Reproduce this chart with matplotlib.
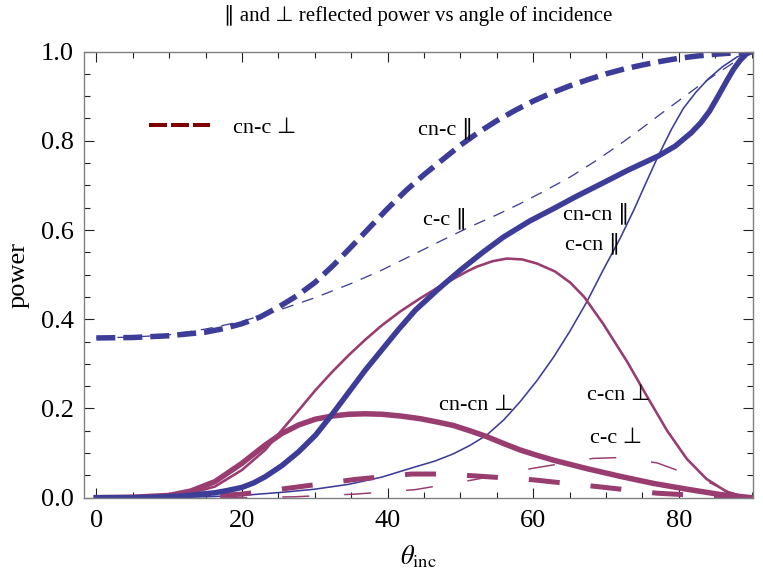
import matplotlib
matplotlib.use("Agg")
import matplotlib.pyplot as plt
from matplotlib.lines import Line2D
from matplotlib.ticker import MultipleLocator

# ---- data: reflected power vs angle of incidence (degrees) ----
# parallel polarisation
cn_c_par_ang = [0, 5, 10, 15, 17.5, 20, 22.5, 25, 27.5, 30, 32.5, 35, 37.5, 40, 42.5, 45, 47.5, 50,
                52.5, 55, 57.5, 60, 62.5, 65, 67.5, 70, 72.5, 75, 77.5, 80, 82.5, 85, 87.5, 90]
cn_c_par_pow = [0.358, 0.359, 0.363, 0.371, 0.379, 0.39, 0.405, 0.427, 0.452, 0.482, 0.52, 0.562,
                0.605, 0.648, 0.688, 0.724, 0.757, 0.79, 0.819, 0.845, 0.868, 0.889, 0.907, 0.923,
                0.937, 0.95, 0.961, 0.97, 0.978, 0.985, 0.99, 0.994, 0.997, 1.0]

c_c_par_ang = [0, 5, 10, 15, 20, 25, 30, 35, 39.2, 43.8, 47.5, 51.3, 55, 58.2, 61.5, 65.1, 68.5,
               71.9, 75, 77.5, 80, 82.5, 85, 87.5, 90]
c_c_par_pow = [0.358, 0.36, 0.365, 0.378, 0.395, 0.42, 0.448, 0.48, 0.51, 0.547, 0.577, 0.607,
               0.634, 0.659, 0.687, 0.719, 0.754, 0.792, 0.829, 0.86, 0.89, 0.92, 0.948, 0.975, 1.0]

cn_cn_par_ang = [0, 5, 8, 12, 16.3, 18, 20, 21.6, 23.2, 25.5, 27.8, 30.1, 32.4, 34.7, 36.9, 39.2,
                 41.5, 43.8, 47, 50, 53, 55.9, 59.5, 62.8, 66, 69.4, 73, 77.2, 79.5, 81.7, 83, 84.2,
                 85.4, 86.6, 87.5, 88.4, 89.3, 90]
cn_cn_par_pow = [0.0, 0.0, 0.001, 0.004, 0.011, 0.016, 0.023, 0.033, 0.047, 0.072, 0.103, 0.14,
                 0.187, 0.237, 0.285, 0.331, 0.377, 0.42, 0.468, 0.51, 0.549, 0.584, 0.62, 0.648,
                 0.676, 0.704, 0.734, 0.766, 0.788, 0.818, 0.84, 0.866, 0.9, 0.935, 0.96, 0.98,
                 0.995, 1.0]

c_cn_par_ang = [0, 8.6, 15, 20, 25.5, 30, 34.7, 39.2, 43.8, 46.5, 49, 51.3, 53.6, 56, 58.2, 60.5,
                62.8, 65, 67.4, 69.6, 71.9, 73.8, 75.5, 77.2, 79, 80.6, 82.3, 84, 86, 88, 90]
c_cn_par_pow = [0.0, 0.0, 0.002, 0.005, 0.012, 0.019, 0.03, 0.046, 0.069, 0.082, 0.098, 0.117,
                0.14, 0.175, 0.215, 0.262, 0.315, 0.372, 0.44, 0.51, 0.58, 0.644, 0.706, 0.767,
                0.826, 0.872, 0.908, 0.938, 0.966, 0.988, 1.0]

# perpendicular polarisation
c_cn_perp_ang = [0, 5, 10, 13, 16.3, 20, 23.2, 25.5, 27.8, 30.1, 32.4, 34.7, 37, 39.2, 41.8, 44.5,
                 47, 49, 51, 52.3, 54.4, 56.4, 58.5, 60.5, 63, 65.1, 67, 69.6, 72.9, 75.6, 78.4,
                 81.1, 83.8, 86.6, 89, 90]
c_cn_perp_pow = [0.0, 0.0, 0.004, 0.01, 0.025, 0.062, 0.107, 0.152, 0.196, 0.241, 0.282, 0.32,
                 0.355, 0.386, 0.418, 0.447, 0.472, 0.49, 0.508, 0.518, 0.53, 0.536, 0.534, 0.525,
                 0.507, 0.482, 0.45, 0.39, 0.305, 0.228, 0.15, 0.087, 0.042, 0.013, 0.002, 0.0]

cn_cn_perp_ang = [0, 5, 10, 13, 16.3, 20, 23.2, 25.5, 27.8, 30.1, 32.4, 34.7, 37, 39.2, 41.8, 44.5,
                  47, 49, 51.3, 53.6, 56, 58.2, 60.5, 62.8, 67.4, 71.9, 76.5, 81.1, 85.7, 90]
cn_cn_perp_pow = [0.0, 0.001, 0.005, 0.015, 0.036, 0.077, 0.118, 0.144, 0.163, 0.176, 0.183, 0.187,
                  0.188, 0.187, 0.183, 0.177, 0.169, 0.162, 0.15, 0.137, 0.121, 0.107, 0.095, 0.084,
                  0.065, 0.048, 0.032, 0.019, 0.007, 0.0]

cn_c_perp_ang = [0, 10, 15, 20, 27.2, 35.6, 43.3, 47, 51.8, 60, 68.7, 77, 86.2, 90]
cn_c_perp_pow = [0.0, 0.001, 0.003, 0.008, 0.023, 0.041, 0.053, 0.053, 0.049, 0.04, 0.025, 0.01, 0.002, 0.0]

c_c_perp_ang = [0, 20, 27.2, 35.6, 43.8, 51.8, 60, 68.2, 72, 77, 83.4, 87, 90]
c_c_perp_pow = [0.0, 0.0, 0.002, 0.008, 0.018, 0.04, 0.066, 0.088, 0.09, 0.078, 0.04, 0.012, 0.0]

x_ticks = [0, 20, 40, 60, 80]
y_ticks = [0.0, 0.2, 0.4, 0.6, 0.8, 1.0]

BLUE = "#3d3d99"
PURPLE = "#993d71"
DARKRED = "#800000"
PX = 0.72  # points per pixel at 100 dpi

plt.rcParams["lines.scale_dashes"] = False
plt.rcParams["mathtext.fontset"] = "stix"
SERIF = ["Liberation Serif", "DejaVu Sans"]
plt.rcParams["font.family"] = SERIF
FS = 16      # curve labels, legend
FS_AX = 19   # tick and axis labels

fig = plt.figure(figsize=(7.63, 5.82), dpi=100)
ax = fig.add_axes([0.1097, 0.1449, 0.8773, 0.7665])

# thin lines first, heavy lines on top
ax.plot(c_c_par_ang, c_c_par_pow, color=BLUE, lw=1.3 * PX,
        dashes=(12 * PX, 9 * PX), dash_capstyle="butt")
ax.plot(c_cn_par_ang, c_cn_par_pow, color=BLUE, lw=1.6 * PX)
ax.plot(c_c_perp_ang, c_c_perp_pow, color=PURPLE, lw=1.5 * PX,
        dashes=(27 * PX, 35 * PX), dash_capstyle="butt")
ax.plot(c_cn_perp_ang, c_cn_perp_pow, color=PURPLE, lw=2.6 * PX)
ax.plot(cn_c_perp_ang, cn_c_perp_pow, color=PURPLE, lw=5 * PX,
        dashes=(31 * PX, 31 * PX), dash_capstyle="butt")
ax.plot(cn_cn_perp_ang, cn_cn_perp_pow, color=PURPLE, lw=5.5 * PX)
ax.plot(cn_cn_par_ang, cn_cn_par_pow, color=BLUE, lw=5.5 * PX)
ax.plot(cn_c_par_ang, cn_c_par_pow, color=BLUE, lw=5.5 * PX,
        dashes=(19 * PX, 8 * PX), dash_capstyle="butt")

# curve labels
labels = [
    ("cn-c \u2225", 44.2, 0.828),
    ("c-c \u2225", 44.8, 0.625),
    ("cn-cn \u2225", 64.1, 0.636),
    ("c-cn \u2225", 64.4, 0.569),
    ("cn-cn \u22a5", 47.0, 0.207),
    ("c-cn \u22a5", 67.4, 0.230),
    ("c-c \u22a5", 67.8, 0.133),
]
for txt, x, y in labels:
    ax.text(x, y, txt, fontsize=FS, family=SERIF, ha="left", va="center")

handle = Line2D([], [], color=DARKRED, lw=4 * PX, dashes=(18 * PX, 4 * PX),
                dash_capstyle="butt")
ax.legend([handle], ["cn-c \u22a5"], loc="center left", bbox_to_anchor=(0.068, 0.83),
          frameon=False, handlelength=2.75, handletextpad=1.0,
          prop={"family": SERIF, "size": FS})

ax.set_xlim(-1.73, 90.2)
ax.set_ylim(0, 1.0)
ax.set_xticks(x_ticks)
ax.set_yticks(y_ticks)
ax.set_xticklabels([str(v) for v in x_ticks])
ax.set_yticklabels([f"{v:.1f}" for v in y_ticks])
ax.xaxis.set_minor_locator(MultipleLocator(5))
ax.yaxis.set_minor_locator(MultipleLocator(0.05))
ax.tick_params(which="both", direction="in", top=True, right=True, colors="#222222",
               labelcolor="black", labelsize=FS_AX)
ax.tick_params(which="major", length=7, width=0.8)
ax.tick_params(which="minor", length=4, width=0.8)
ax.tick_params(axis="y", pad=7)
ax.tick_params(axis="x", pad=9)
for s in ax.spines.values():
    s.set_color("#808080")
    s.set_linewidth(1.0)

ax.set_xlabel(r"$\theta_{\mathrm{inc}}$", fontsize=FS_AX, labelpad=8)
ax.set_ylabel("power", fontsize=FS_AX, labelpad=8)
ax.set_title("\u2225 and \u22a5 reflected power vs angle of incidence", fontsize=FS - 1,
             family=SERIF, pad=22)

fig.savefig("out.png", dpi=100)
